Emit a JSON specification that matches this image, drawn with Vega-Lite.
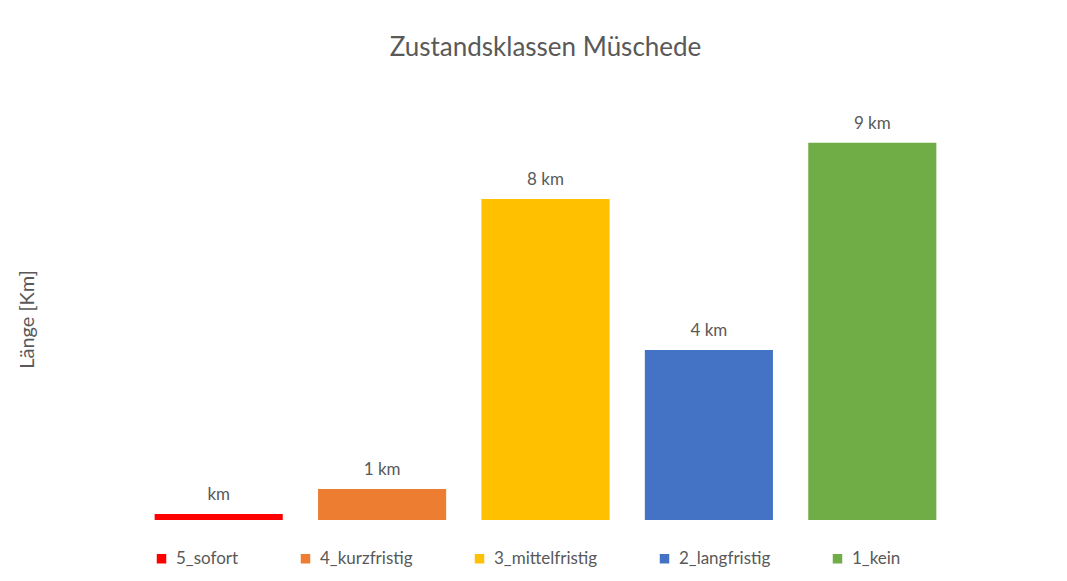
{
  "$schema": "https://vega.github.io/schema/vega-lite/v6.json",
  "autosize": "none",
  "width": 817,
  "height": 420,
  "padding": {"left": 137, "top": 100, "right": 113, "bottom": 61},
  "background": "white",
  "title": {
    "text": "Zustandsklassen Müschede",
    "fontSize": 26,
    "font": "Lato",
    "fontWeight": "normal",
    "color": "#595959",
    "baseline": "alphabetic",
    "offset": 18,
    "anchor": "middle"
  },
  "data": {
    "values": [
      {"klasse": "5_sofort", "laenge": 0.14, "label": "km"},
      {"klasse": "4_kurzfristig", "laenge": 0.74, "label": "1 km"},
      {"klasse": "3_mittelfristig", "laenge": 7.64, "label": "8 km"},
      {"klasse": "2_langfristig", "laenge": 4.05, "label": "4 km"},
      {"klasse": "1_kein", "laenge": 8.98, "label": "9 km"}
    ]
  },
  "encoding": {
    "x": {
      "field": "klasse",
      "type": "nominal",
      "sort": ["5_sofort", "4_kurzfristig", "3_mittelfristig", "2_langfristig", "1_kein"],
      "scale": {"paddingInner": 0.216, "paddingOuter": 0.108},
      "axis": null
    },
    "y": {
      "field": "laenge",
      "type": "quantitative",
      "scale": {"domain": [0, 10]},
      "axis": {
        "title": "Länge [Km]",
        "labels": false,
        "ticks": false,
        "domain": false,
        "grid": false,
        "titleFont": "Lato",
        "titleFontSize": 20,
        "titleFontWeight": "normal",
        "titleColor": "#595959",
        "titlePadding": 100,
        "titleY": 219
      }
    }
  },
  "layer": [
    {
      "mark": {"type": "bar"},
      "encoding": {
        "color": {
          "field": "klasse",
          "type": "nominal",
          "scale": {
            "domain": ["5_sofort", "4_kurzfristig", "3_mittelfristig", "2_langfristig", "1_kein"],
            "range": ["#FF0000", "#ED7D31", "#FFC000", "#4472C4", "#70AD47"]
          },
          "legend": {
            "title": null,
            "orient": "none",
            "legendX": 16,
            "legendY": 450,
            "direction": "horizontal",
            "columns": 5,
            "gridAlign": "each",
            "columnPadding": 58,
            "symbolType": "square",
            "symbolSize": 90,
            "symbolStrokeWidth": 0,
            "labelFont": "Lato",
            "labelFontSize": 17,
            "labelColor": "#595959",
            "labelOffset": 6
          }
        }
      }
    },
    {
      "mark": {"type": "text", "baseline": "bottom", "dy": -10, "font": "Lato", "fontSize": 17, "color": "#595959"},
      "encoding": {"text": {"field": "label"}}
    }
  ],
  "config": {"view": {"stroke": null}}
}
